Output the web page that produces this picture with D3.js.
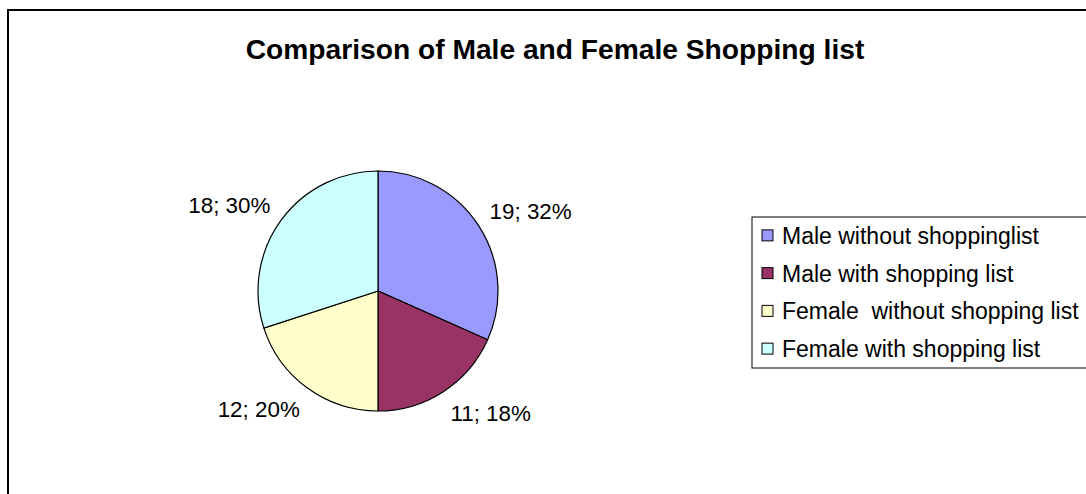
<!DOCTYPE html>
<html>
<head>
<meta charset="utf-8">
<script src="https://cdn.jsdelivr.net/npm/d3@7"></script>
<style>
  html, body { margin: 0; padding: 0; background: #fff; }
  svg { display: block; }
  text { font-family: "Liberation Sans", Arial, sans-serif; fill: #000; white-space: pre; }
</style>
</head>
<body>
<svg id="chart" width="1086" height="494"></svg>
<script>
const categories = ["Male without shoppinglist", "Male with shopping list", "Female  without shopping list", "Female with shopping list"];
const values = [19, 11, 12, 18];
const percents = ["32%", "18%", "20%", "30%"];
const colors = ["#9999FF", "#993366", "#FFFFCC", "#CCFFFF"];
const title = "Comparison of Male and Female Shopping list";

const svg = d3.select("#chart");

// chart border (extends beyond right and bottom edges)
svg.append("rect")
  .attr("x", 8).attr("y", 10)
  .attr("width", 1200).attr("height", 600)
  .attr("fill", "#fff").attr("stroke", "#000").attr("stroke-width", 2);

svg.append("text")
  .attr("x", 555).attr("y", 59)
  .attr("text-anchor", "middle")
  .attr("font-size", 28.2).attr("font-weight", "bold")
  .text(title);

const cx = 378, cy = 291, R = 120;
const pie = d3.pie().sort(null).value(d => d)(values);
const arc = d3.arc().innerRadius(0).outerRadius(R);
const labelArc = d3.arc().innerRadius(133).outerRadius(133);

const g = svg.append("g").attr("transform", `translate(${cx},${cy})`);
g.selectAll("path").data(pie).join("path")
  .attr("d", arc)
  .attr("fill", (d, i) => colors[i])
  .attr("stroke", "#000").attr("stroke-width", 1.2);

g.selectAll("text.lbl").data(pie).join("text")
  .attr("class", "lbl")
  .attr("font-size", 22.4)
  .each(function(d, i) {
    const [x, y] = labelArc.centroid(d);
    d3.select(this)
      .attr("x", x)
      .attr("y", y > 0 ? y + 18 : y)
      .attr("text-anchor", x >= 0 ? "start" : "end")
      .text(values[i] + "; " + percents[i]);
  });

// legend
const legendY = d3.scaleBand().domain(categories).range([217, 368]);
const lg = svg.append("g");
lg.append("rect")
  .attr("x", 752).attr("y", legendY.range()[0])
  .attr("width", 400).attr("height", legendY.range()[1] - legendY.range()[0])
  .attr("fill", "#fff").attr("stroke", "#000").attr("stroke-width", 1);
const items = lg.selectAll("g.item").data(categories).join("g")
  .attr("class", "item")
  .attr("transform", d => `translate(0,${legendY(d) + legendY.bandwidth() / 2})`);
items.append("rect")
  .attr("x", 762).attr("y", -6).attr("width", 11).attr("height", 11)
  .attr("fill", (d, i) => colors[i]).attr("stroke", "#000").attr("stroke-width", 1);
items.append("text")
  .attr("x", 782).attr("y", 8)
  .attr("font-size", 23)
  .text(d => d);
</script>
</body>
</html>
